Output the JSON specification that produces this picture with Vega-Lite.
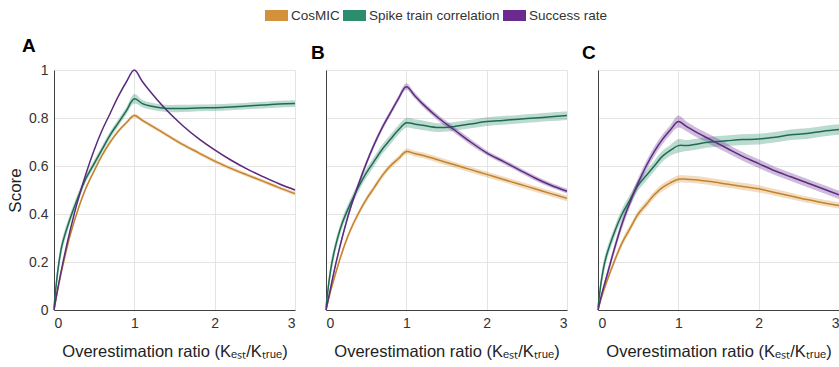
{
  "$schema": "https://vega.github.io/schema/vega-lite/v6.json",
  "background": "white",
  "padding": {"left": 6, "top": 4, "right": 0, "bottom": 4},
  "config": {
    "view": {"stroke": null},
    "font": "Liberation Sans",
    "axis": {"domainColor": "#404040", "domainWidth": 1, "gridColor": "#e4e4e4", "ticks": false, "labelFont": "Liberation Sans", "labelFontSize": 14, "labelColor": "#333333", "labelPadding": 6, "titleFont": "Liberation Sans", "titleFontWeight": "normal", "titleFontSize": 16.5, "titleColor": "#222222"},
    "title": {"font": "Liberation Sans", "fontSize": 19, "fontWeight": "bold", "color": "#000000", "anchor": "start", "frame": "group", "baseline": "alphabetic", "offset": 7}
  },
  "data": {"values": [
{"p":"A","s":"CosMIC","x":0,"y":0,"lo":0,"hi":0},
{"p":"A","s":"CosMIC","x":0.05,"y":0.09,"lo":0.082,"hi":0.098},
{"p":"A","s":"CosMIC","x":0.1,"y":0.17,"lo":0.162,"hi":0.178},
{"p":"A","s":"CosMIC","x":0.2,"y":0.31,"lo":0.302,"hi":0.318},
{"p":"A","s":"CosMIC","x":0.3,"y":0.42,"lo":0.412,"hi":0.428},
{"p":"A","s":"CosMIC","x":0.4,"y":0.51,"lo":0.502,"hi":0.518},
{"p":"A","s":"CosMIC","x":0.5,"y":0.58,"lo":0.572,"hi":0.588},
{"p":"A","s":"CosMIC","x":0.6,"y":0.645,"lo":0.637,"hi":0.653},
{"p":"A","s":"CosMIC","x":0.7,"y":0.7,"lo":0.692,"hi":0.708},
{"p":"A","s":"CosMIC","x":0.8,"y":0.745,"lo":0.737,"hi":0.753},
{"p":"A","s":"CosMIC","x":0.9,"y":0.78,"lo":0.772,"hi":0.788},
{"p":"A","s":"CosMIC","x":1,"y":0.81,"lo":0.802,"hi":0.818},
{"p":"A","s":"CosMIC","x":1.1,"y":0.79,"lo":0.782,"hi":0.798},
{"p":"A","s":"CosMIC","x":1.2,"y":0.77,"lo":0.762,"hi":0.778},
{"p":"A","s":"CosMIC","x":1.4,"y":0.73,"lo":0.722,"hi":0.738},
{"p":"A","s":"CosMIC","x":1.6,"y":0.69,"lo":0.682,"hi":0.698},
{"p":"A","s":"CosMIC","x":1.8,"y":0.655,"lo":0.647,"hi":0.663},
{"p":"A","s":"CosMIC","x":2,"y":0.62,"lo":0.612,"hi":0.628},
{"p":"A","s":"CosMIC","x":2.2,"y":0.59,"lo":0.582,"hi":0.598},
{"p":"A","s":"CosMIC","x":2.4,"y":0.563,"lo":0.555,"hi":0.571},
{"p":"A","s":"CosMIC","x":2.6,"y":0.537,"lo":0.529,"hi":0.545},
{"p":"A","s":"CosMIC","x":2.8,"y":0.51,"lo":0.502,"hi":0.518},
{"p":"A","s":"CosMIC","x":3,"y":0.485,"lo":0.477,"hi":0.493},
{"p":"A","s":"Spike train correlation","x":0,"y":0.01,"lo":0,"hi":0.03},
{"p":"A","s":"Spike train correlation","x":0.05,"y":0.17,"lo":0.14,"hi":0.2},
{"p":"A","s":"Spike train correlation","x":0.1,"y":0.27,"lo":0.245,"hi":0.295},
{"p":"A","s":"Spike train correlation","x":0.2,"y":0.38,"lo":0.36,"hi":0.4},
{"p":"A","s":"Spike train correlation","x":0.3,"y":0.47,"lo":0.45,"hi":0.49},
{"p":"A","s":"Spike train correlation","x":0.4,"y":0.55,"lo":0.535,"hi":0.565},
{"p":"A","s":"Spike train correlation","x":0.5,"y":0.61,"lo":0.595,"hi":0.625},
{"p":"A","s":"Spike train correlation","x":0.6,"y":0.67,"lo":0.655,"hi":0.685},
{"p":"A","s":"Spike train correlation","x":0.7,"y":0.73,"lo":0.715,"hi":0.745},
{"p":"A","s":"Spike train correlation","x":0.8,"y":0.78,"lo":0.765,"hi":0.795},
{"p":"A","s":"Spike train correlation","x":0.9,"y":0.83,"lo":0.815,"hi":0.845},
{"p":"A","s":"Spike train correlation","x":1,"y":0.88,"lo":0.86,"hi":0.9},
{"p":"A","s":"Spike train correlation","x":1.1,"y":0.86,"lo":0.845,"hi":0.875},
{"p":"A","s":"Spike train correlation","x":1.2,"y":0.85,"lo":0.835,"hi":0.865},
{"p":"A","s":"Spike train correlation","x":1.4,"y":0.84,"lo":0.825,"hi":0.855},
{"p":"A","s":"Spike train correlation","x":1.6,"y":0.84,"lo":0.825,"hi":0.855},
{"p":"A","s":"Spike train correlation","x":1.8,"y":0.842,"lo":0.828,"hi":0.856},
{"p":"A","s":"Spike train correlation","x":2,"y":0.843,"lo":0.829,"hi":0.857},
{"p":"A","s":"Spike train correlation","x":2.2,"y":0.846,"lo":0.832,"hi":0.86},
{"p":"A","s":"Spike train correlation","x":2.4,"y":0.85,"lo":0.836,"hi":0.864},
{"p":"A","s":"Spike train correlation","x":2.6,"y":0.854,"lo":0.84,"hi":0.868},
{"p":"A","s":"Spike train correlation","x":2.8,"y":0.858,"lo":0.844,"hi":0.872},
{"p":"A","s":"Spike train correlation","x":3,"y":0.86,"lo":0.846,"hi":0.874},
{"p":"A","s":"Success rate","x":0,"y":0,"lo":0,"hi":0},
{"p":"A","s":"Success rate","x":0.05,"y":0.095,"lo":0.092,"hi":0.098},
{"p":"A","s":"Success rate","x":0.1,"y":0.18,"lo":0.177,"hi":0.183},
{"p":"A","s":"Success rate","x":0.2,"y":0.33,"lo":0.327,"hi":0.333},
{"p":"A","s":"Success rate","x":0.3,"y":0.46,"lo":0.457,"hi":0.463},
{"p":"A","s":"Success rate","x":0.4,"y":0.57,"lo":0.567,"hi":0.573},
{"p":"A","s":"Success rate","x":0.5,"y":0.667,"lo":0.664,"hi":0.67},
{"p":"A","s":"Success rate","x":0.6,"y":0.75,"lo":0.747,"hi":0.753},
{"p":"A","s":"Success rate","x":0.7,"y":0.82,"lo":0.817,"hi":0.823},
{"p":"A","s":"Success rate","x":0.8,"y":0.89,"lo":0.887,"hi":0.893},
{"p":"A","s":"Success rate","x":0.9,"y":0.95,"lo":0.947,"hi":0.953},
{"p":"A","s":"Success rate","x":1,"y":1,"lo":0.997,"hi":1},
{"p":"A","s":"Success rate","x":1.1,"y":0.952,"lo":0.949,"hi":0.955},
{"p":"A","s":"Success rate","x":1.2,"y":0.909,"lo":0.906,"hi":0.912},
{"p":"A","s":"Success rate","x":1.4,"y":0.833,"lo":0.83,"hi":0.836},
{"p":"A","s":"Success rate","x":1.6,"y":0.769,"lo":0.766,"hi":0.772},
{"p":"A","s":"Success rate","x":1.8,"y":0.714,"lo":0.711,"hi":0.717},
{"p":"A","s":"Success rate","x":2,"y":0.667,"lo":0.664,"hi":0.67},
{"p":"A","s":"Success rate","x":2.2,"y":0.625,"lo":0.622,"hi":0.628},
{"p":"A","s":"Success rate","x":2.4,"y":0.588,"lo":0.585,"hi":0.591},
{"p":"A","s":"Success rate","x":2.6,"y":0.556,"lo":0.553,"hi":0.559},
{"p":"A","s":"Success rate","x":2.8,"y":0.526,"lo":0.523,"hi":0.529},
{"p":"A","s":"Success rate","x":3,"y":0.5,"lo":0.497,"hi":0.503},
{"p":"B","s":"CosMIC","x":0,"y":0,"lo":0,"hi":0.005},
{"p":"B","s":"CosMIC","x":0.05,"y":0.07,"lo":0.06,"hi":0.08},
{"p":"B","s":"CosMIC","x":0.1,"y":0.13,"lo":0.118,"hi":0.142},
{"p":"B","s":"CosMIC","x":0.2,"y":0.24,"lo":0.228,"hi":0.252},
{"p":"B","s":"CosMIC","x":0.3,"y":0.33,"lo":0.318,"hi":0.342},
{"p":"B","s":"CosMIC","x":0.4,"y":0.4,"lo":0.388,"hi":0.412},
{"p":"B","s":"CosMIC","x":0.5,"y":0.46,"lo":0.448,"hi":0.472},
{"p":"B","s":"CosMIC","x":0.6,"y":0.51,"lo":0.498,"hi":0.522},
{"p":"B","s":"CosMIC","x":0.7,"y":0.56,"lo":0.548,"hi":0.572},
{"p":"B","s":"CosMIC","x":0.8,"y":0.6,"lo":0.588,"hi":0.612},
{"p":"B","s":"CosMIC","x":0.9,"y":0.63,"lo":0.618,"hi":0.642},
{"p":"B","s":"CosMIC","x":1,"y":0.66,"lo":0.648,"hi":0.672},
{"p":"B","s":"CosMIC","x":1.1,"y":0.652,"lo":0.64,"hi":0.664},
{"p":"B","s":"CosMIC","x":1.2,"y":0.645,"lo":0.633,"hi":0.657},
{"p":"B","s":"CosMIC","x":1.4,"y":0.625,"lo":0.613,"hi":0.637},
{"p":"B","s":"CosMIC","x":1.6,"y":0.605,"lo":0.593,"hi":0.617},
{"p":"B","s":"CosMIC","x":1.8,"y":0.585,"lo":0.573,"hi":0.597},
{"p":"B","s":"CosMIC","x":2,"y":0.565,"lo":0.553,"hi":0.577},
{"p":"B","s":"CosMIC","x":2.2,"y":0.545,"lo":0.533,"hi":0.557},
{"p":"B","s":"CosMIC","x":2.4,"y":0.525,"lo":0.513,"hi":0.537},
{"p":"B","s":"CosMIC","x":2.6,"y":0.505,"lo":0.493,"hi":0.517},
{"p":"B","s":"CosMIC","x":2.8,"y":0.485,"lo":0.473,"hi":0.497},
{"p":"B","s":"CosMIC","x":3,"y":0.465,"lo":0.453,"hi":0.477},
{"p":"B","s":"Spike train correlation","x":0,"y":0.01,"lo":0,"hi":0.03},
{"p":"B","s":"Spike train correlation","x":0.05,"y":0.15,"lo":0.12,"hi":0.18},
{"p":"B","s":"Spike train correlation","x":0.1,"y":0.24,"lo":0.215,"hi":0.265},
{"p":"B","s":"Spike train correlation","x":0.2,"y":0.36,"lo":0.34,"hi":0.38},
{"p":"B","s":"Spike train correlation","x":0.3,"y":0.44,"lo":0.42,"hi":0.46},
{"p":"B","s":"Spike train correlation","x":0.4,"y":0.51,"lo":0.49,"hi":0.53},
{"p":"B","s":"Spike train correlation","x":0.5,"y":0.57,"lo":0.55,"hi":0.59},
{"p":"B","s":"Spike train correlation","x":0.6,"y":0.62,"lo":0.6,"hi":0.64},
{"p":"B","s":"Spike train correlation","x":0.7,"y":0.67,"lo":0.65,"hi":0.69},
{"p":"B","s":"Spike train correlation","x":0.8,"y":0.71,"lo":0.69,"hi":0.73},
{"p":"B","s":"Spike train correlation","x":0.9,"y":0.75,"lo":0.73,"hi":0.77},
{"p":"B","s":"Spike train correlation","x":1,"y":0.78,"lo":0.76,"hi":0.8},
{"p":"B","s":"Spike train correlation","x":1.1,"y":0.775,"lo":0.755,"hi":0.795},
{"p":"B","s":"Spike train correlation","x":1.2,"y":0.77,"lo":0.75,"hi":0.79},
{"p":"B","s":"Spike train correlation","x":1.4,"y":0.76,"lo":0.742,"hi":0.778},
{"p":"B","s":"Spike train correlation","x":1.6,"y":0.765,"lo":0.747,"hi":0.783},
{"p":"B","s":"Spike train correlation","x":1.8,"y":0.775,"lo":0.757,"hi":0.793},
{"p":"B","s":"Spike train correlation","x":2,"y":0.785,"lo":0.767,"hi":0.803},
{"p":"B","s":"Spike train correlation","x":2.2,"y":0.79,"lo":0.772,"hi":0.808},
{"p":"B","s":"Spike train correlation","x":2.4,"y":0.795,"lo":0.777,"hi":0.813},
{"p":"B","s":"Spike train correlation","x":2.6,"y":0.8,"lo":0.782,"hi":0.818},
{"p":"B","s":"Spike train correlation","x":2.8,"y":0.805,"lo":0.787,"hi":0.823},
{"p":"B","s":"Spike train correlation","x":3,"y":0.81,"lo":0.792,"hi":0.828},
{"p":"B","s":"Success rate","x":0,"y":0,"lo":0,"hi":0.005},
{"p":"B","s":"Success rate","x":0.05,"y":0.08,"lo":0.07,"hi":0.09},
{"p":"B","s":"Success rate","x":0.1,"y":0.16,"lo":0.148,"hi":0.172},
{"p":"B","s":"Success rate","x":0.2,"y":0.3,"lo":0.288,"hi":0.312},
{"p":"B","s":"Success rate","x":0.3,"y":0.42,"lo":0.408,"hi":0.432},
{"p":"B","s":"Success rate","x":0.4,"y":0.52,"lo":0.508,"hi":0.532},
{"p":"B","s":"Success rate","x":0.5,"y":0.61,"lo":0.598,"hi":0.622},
{"p":"B","s":"Success rate","x":0.6,"y":0.69,"lo":0.678,"hi":0.702},
{"p":"B","s":"Success rate","x":0.7,"y":0.76,"lo":0.748,"hi":0.772},
{"p":"B","s":"Success rate","x":0.8,"y":0.82,"lo":0.808,"hi":0.832},
{"p":"B","s":"Success rate","x":0.9,"y":0.88,"lo":0.868,"hi":0.892},
{"p":"B","s":"Success rate","x":1,"y":0.93,"lo":0.918,"hi":0.945},
{"p":"B","s":"Success rate","x":1.1,"y":0.895,"lo":0.883,"hi":0.907},
{"p":"B","s":"Success rate","x":1.2,"y":0.86,"lo":0.848,"hi":0.872},
{"p":"B","s":"Success rate","x":1.4,"y":0.8,"lo":0.788,"hi":0.812},
{"p":"B","s":"Success rate","x":1.6,"y":0.75,"lo":0.738,"hi":0.762},
{"p":"B","s":"Success rate","x":1.8,"y":0.7,"lo":0.688,"hi":0.712},
{"p":"B","s":"Success rate","x":2,"y":0.655,"lo":0.645,"hi":0.665},
{"p":"B","s":"Success rate","x":2.2,"y":0.62,"lo":0.61,"hi":0.63},
{"p":"B","s":"Success rate","x":2.4,"y":0.585,"lo":0.575,"hi":0.595},
{"p":"B","s":"Success rate","x":2.6,"y":0.55,"lo":0.54,"hi":0.56},
{"p":"B","s":"Success rate","x":2.8,"y":0.52,"lo":0.51,"hi":0.53},
{"p":"B","s":"Success rate","x":3,"y":0.495,"lo":0.485,"hi":0.505},
{"p":"C","s":"CosMIC","x":0,"y":0,"lo":0,"hi":0.005},
{"p":"C","s":"CosMIC","x":0.05,"y":0.06,"lo":0.048,"hi":0.072},
{"p":"C","s":"CosMIC","x":0.1,"y":0.11,"lo":0.097,"hi":0.123},
{"p":"C","s":"CosMIC","x":0.2,"y":0.2,"lo":0.186,"hi":0.214},
{"p":"C","s":"CosMIC","x":0.3,"y":0.28,"lo":0.265,"hi":0.295},
{"p":"C","s":"CosMIC","x":0.4,"y":0.34,"lo":0.325,"hi":0.355},
{"p":"C","s":"CosMIC","x":0.5,"y":0.4,"lo":0.385,"hi":0.415},
{"p":"C","s":"CosMIC","x":0.6,"y":0.44,"lo":0.425,"hi":0.455},
{"p":"C","s":"CosMIC","x":0.7,"y":0.48,"lo":0.465,"hi":0.495},
{"p":"C","s":"CosMIC","x":0.8,"y":0.51,"lo":0.495,"hi":0.525},
{"p":"C","s":"CosMIC","x":0.9,"y":0.53,"lo":0.515,"hi":0.545},
{"p":"C","s":"CosMIC","x":1,"y":0.545,"lo":0.53,"hi":0.56},
{"p":"C","s":"CosMIC","x":1.1,"y":0.545,"lo":0.53,"hi":0.56},
{"p":"C","s":"CosMIC","x":1.2,"y":0.543,"lo":0.528,"hi":0.558},
{"p":"C","s":"CosMIC","x":1.4,"y":0.535,"lo":0.52,"hi":0.55},
{"p":"C","s":"CosMIC","x":1.6,"y":0.525,"lo":0.51,"hi":0.54},
{"p":"C","s":"CosMIC","x":1.8,"y":0.515,"lo":0.5,"hi":0.53},
{"p":"C","s":"CosMIC","x":2,"y":0.505,"lo":0.49,"hi":0.52},
{"p":"C","s":"CosMIC","x":2.2,"y":0.49,"lo":0.476,"hi":0.504},
{"p":"C","s":"CosMIC","x":2.4,"y":0.475,"lo":0.461,"hi":0.489},
{"p":"C","s":"CosMIC","x":2.6,"y":0.46,"lo":0.447,"hi":0.473},
{"p":"C","s":"CosMIC","x":2.8,"y":0.447,"lo":0.434,"hi":0.46},
{"p":"C","s":"CosMIC","x":3,"y":0.435,"lo":0.422,"hi":0.448},
{"p":"C","s":"Spike train correlation","x":0,"y":0.01,"lo":0,"hi":0.03},
{"p":"C","s":"Spike train correlation","x":0.05,"y":0.14,"lo":0.11,"hi":0.17},
{"p":"C","s":"Spike train correlation","x":0.1,"y":0.22,"lo":0.195,"hi":0.245},
{"p":"C","s":"Spike train correlation","x":0.2,"y":0.32,"lo":0.298,"hi":0.342},
{"p":"C","s":"Spike train correlation","x":0.3,"y":0.4,"lo":0.378,"hi":0.422},
{"p":"C","s":"Spike train correlation","x":0.4,"y":0.46,"lo":0.438,"hi":0.482},
{"p":"C","s":"Spike train correlation","x":0.5,"y":0.52,"lo":0.498,"hi":0.542},
{"p":"C","s":"Spike train correlation","x":0.6,"y":0.56,"lo":0.538,"hi":0.582},
{"p":"C","s":"Spike train correlation","x":0.7,"y":0.6,"lo":0.578,"hi":0.622},
{"p":"C","s":"Spike train correlation","x":0.8,"y":0.64,"lo":0.618,"hi":0.662},
{"p":"C","s":"Spike train correlation","x":0.9,"y":0.665,"lo":0.643,"hi":0.687},
{"p":"C","s":"Spike train correlation","x":1,"y":0.685,"lo":0.655,"hi":0.712},
{"p":"C","s":"Spike train correlation","x":1.1,"y":0.685,"lo":0.662,"hi":0.708},
{"p":"C","s":"Spike train correlation","x":1.2,"y":0.69,"lo":0.667,"hi":0.713},
{"p":"C","s":"Spike train correlation","x":1.4,"y":0.7,"lo":0.678,"hi":0.722},
{"p":"C","s":"Spike train correlation","x":1.6,"y":0.705,"lo":0.683,"hi":0.727},
{"p":"C","s":"Spike train correlation","x":1.8,"y":0.71,"lo":0.688,"hi":0.732},
{"p":"C","s":"Spike train correlation","x":2,"y":0.712,"lo":0.69,"hi":0.734},
{"p":"C","s":"Spike train correlation","x":2.2,"y":0.72,"lo":0.698,"hi":0.742},
{"p":"C","s":"Spike train correlation","x":2.4,"y":0.73,"lo":0.708,"hi":0.752},
{"p":"C","s":"Spike train correlation","x":2.6,"y":0.735,"lo":0.713,"hi":0.757},
{"p":"C","s":"Spike train correlation","x":2.8,"y":0.745,"lo":0.723,"hi":0.767},
{"p":"C","s":"Spike train correlation","x":3,"y":0.752,"lo":0.73,"hi":0.774},
{"p":"C","s":"Success rate","x":0,"y":0,"lo":0,"hi":0.005},
{"p":"C","s":"Success rate","x":0.05,"y":0.07,"lo":0.058,"hi":0.082},
{"p":"C","s":"Success rate","x":0.1,"y":0.13,"lo":0.115,"hi":0.145},
{"p":"C","s":"Success rate","x":0.2,"y":0.25,"lo":0.232,"hi":0.268},
{"p":"C","s":"Success rate","x":0.3,"y":0.36,"lo":0.34,"hi":0.38},
{"p":"C","s":"Success rate","x":0.4,"y":0.45,"lo":0.43,"hi":0.47},
{"p":"C","s":"Success rate","x":0.5,"y":0.53,"lo":0.51,"hi":0.55},
{"p":"C","s":"Success rate","x":0.6,"y":0.6,"lo":0.58,"hi":0.62},
{"p":"C","s":"Success rate","x":0.7,"y":0.66,"lo":0.64,"hi":0.68},
{"p":"C","s":"Success rate","x":0.8,"y":0.71,"lo":0.69,"hi":0.73},
{"p":"C","s":"Success rate","x":0.9,"y":0.75,"lo":0.73,"hi":0.77},
{"p":"C","s":"Success rate","x":1,"y":0.785,"lo":0.76,"hi":0.81},
{"p":"C","s":"Success rate","x":1.1,"y":0.765,"lo":0.745,"hi":0.785},
{"p":"C","s":"Success rate","x":1.2,"y":0.745,"lo":0.725,"hi":0.765},
{"p":"C","s":"Success rate","x":1.4,"y":0.71,"lo":0.69,"hi":0.73},
{"p":"C","s":"Success rate","x":1.6,"y":0.675,"lo":0.656,"hi":0.694},
{"p":"C","s":"Success rate","x":1.8,"y":0.64,"lo":0.622,"hi":0.658},
{"p":"C","s":"Success rate","x":2,"y":0.61,"lo":0.592,"hi":0.628},
{"p":"C","s":"Success rate","x":2.2,"y":0.58,"lo":0.563,"hi":0.597},
{"p":"C","s":"Success rate","x":2.4,"y":0.555,"lo":0.538,"hi":0.572},
{"p":"C","s":"Success rate","x":2.6,"y":0.53,"lo":0.513,"hi":0.547},
{"p":"C","s":"Success rate","x":2.8,"y":0.505,"lo":0.488,"hi":0.522},
{"p":"C","s":"Success rate","x":3,"y":0.48,"lo":0.463,"hi":0.497}
  ]},
  "spacing": 31,
  "bounds": "flush",
  "resolve": {"scale": {"color": "shared", "stroke": "shared"}, "legend": {"color": "shared", "stroke": "shared"}},
  "hconcat": [
    {
      "width": 241, "height": 240,
      "title": {"text": "A", "dx": -32},
      "transform": [{"filter": "datum.p == 'A'"}],
      "encoding": {"x": {"field": "x", "type": "quantitative", "scale": {"domain": [0, 3], "nice": false}, "axis": {"values": [0, 1, 2, 3], "format": "d", "title": "Overestimation ratio (Kₑₛₜ/Kₜᵣᵤₑ)", "titlePadding": 13}}},
      "layer": [
        {"mark": {"type": "area", "fillOpacity": 0.32, "interpolate": "catmull-rom"},
         "encoding": {
           "y": {"field": "lo", "type": "quantitative", "scale": {"domain": [0, 1], "nice": false}, "axis": {"values": [0, 0.2, 0.4, 0.6, 0.8, 1], "format": "~g", "title": "Score", "titleFontSize": 17, "titlePadding": 4}},
           "y2": {"field": "hi"},
           "color": {"field": "s", "type": "nominal", "scale": {"domain": ["CosMIC", "Spike train correlation", "Success rate"], "range": ["#d4913b", "#2b8c6e", "#6b2a8e"]},
             "legend": {"orient": "none", "direction": "horizontal", "legendX": 211, "legendY": -66, "title": null, "symbolType": "M-1,-0.48H1V0.48H-1Z", "symbolSize": 529, "symbolOpacity": 1, "symbolStrokeWidth": 0, "labelFont": "Liberation Sans", "labelFontSize": 13.5, "labelColor": "#333333", "labelOffset": 3, "columnPadding": 3}}
         }},
        {"mark": {"type": "line", "strokeWidth": 1.5, "interpolate": "catmull-rom"},
         "encoding": {
           "y": {"field": "y", "type": "quantitative", "scale": {"domain": [0, 1], "nice": false}, "axis": {"values": [0, 0.2, 0.4, 0.6, 0.8, 1], "format": "~g", "title": "Score", "titleFontSize": 17, "titlePadding": 4}},
           "stroke": {"field": "s", "type": "nominal", "scale": {"domain": ["CosMIC", "Spike train correlation", "Success rate"], "range": ["#c4822a", "#1f6b52", "#5a2d80"]}, "legend": null}
         }}
      ]
    },
    {
      "width": 241, "height": 240,
      "title": {"text": "B", "dx": -15},
      "transform": [{"filter": "datum.p == 'B'"}],
      "encoding": {"x": {"field": "x", "type": "quantitative", "scale": {"domain": [0, 3], "nice": false}, "axis": {"values": [0, 1, 2, 3], "format": "d", "title": "Overestimation ratio (Kₑₛₜ/Kₜᵣᵤₑ)", "titlePadding": 13}}},
      "layer": [
        {"mark": {"type": "area", "fillOpacity": 0.32, "interpolate": "catmull-rom"},
         "encoding": {
           "y": {"field": "lo", "type": "quantitative", "scale": {"domain": [0, 1], "nice": false}, "axis": {"values": [0, 0.2, 0.4, 0.6, 0.8, 1], "labels": false, "title": null}},
           "y2": {"field": "hi"},
           "color": {"field": "s", "type": "nominal", "scale": {"domain": ["CosMIC", "Spike train correlation", "Success rate"], "range": ["#d4913b", "#2b8c6e", "#6b2a8e"]}}
         }},
        {"mark": {"type": "line", "strokeWidth": 1.5, "interpolate": "catmull-rom"},
         "encoding": {
           "y": {"field": "y", "type": "quantitative", "scale": {"domain": [0, 1], "nice": false}, "axis": {"values": [0, 0.2, 0.4, 0.6, 0.8, 1], "labels": false, "title": null}},
           "stroke": {"field": "s", "type": "nominal", "scale": {"domain": ["CosMIC", "Spike train correlation", "Success rate"], "range": ["#c4822a", "#1f6b52", "#5a2d80"]}, "legend": null}
         }}
      ]
    },
    {
      "width": 241, "height": 240,
      "title": {"text": "C", "dx": -16},
      "transform": [{"filter": "datum.p == 'C'"}],
      "encoding": {"x": {"field": "x", "type": "quantitative", "scale": {"domain": [0, 3], "nice": false}, "axis": {"values": [0, 1, 2, 3], "format": "d", "title": "Overestimation ratio (Kₑₛₜ/Kₜᵣᵤₑ)", "titlePadding": 13}}},
      "layer": [
        {"mark": {"type": "area", "fillOpacity": 0.32, "interpolate": "catmull-rom"},
         "encoding": {
           "y": {"field": "lo", "type": "quantitative", "scale": {"domain": [0, 1], "nice": false}, "axis": {"values": [0, 0.2, 0.4, 0.6, 0.8, 1], "labels": false, "title": null}},
           "y2": {"field": "hi"},
           "color": {"field": "s", "type": "nominal", "scale": {"domain": ["CosMIC", "Spike train correlation", "Success rate"], "range": ["#d4913b", "#2b8c6e", "#6b2a8e"]}}
         }},
        {"mark": {"type": "line", "strokeWidth": 1.5, "interpolate": "catmull-rom"},
         "encoding": {
           "y": {"field": "y", "type": "quantitative", "scale": {"domain": [0, 1], "nice": false}, "axis": {"values": [0, 0.2, 0.4, 0.6, 0.8, 1], "labels": false, "title": null}},
           "stroke": {"field": "s", "type": "nominal", "scale": {"domain": ["CosMIC", "Spike train correlation", "Success rate"], "range": ["#c4822a", "#1f6b52", "#5a2d80"]}, "legend": null}
         }}
      ]
    }
  ]
}
